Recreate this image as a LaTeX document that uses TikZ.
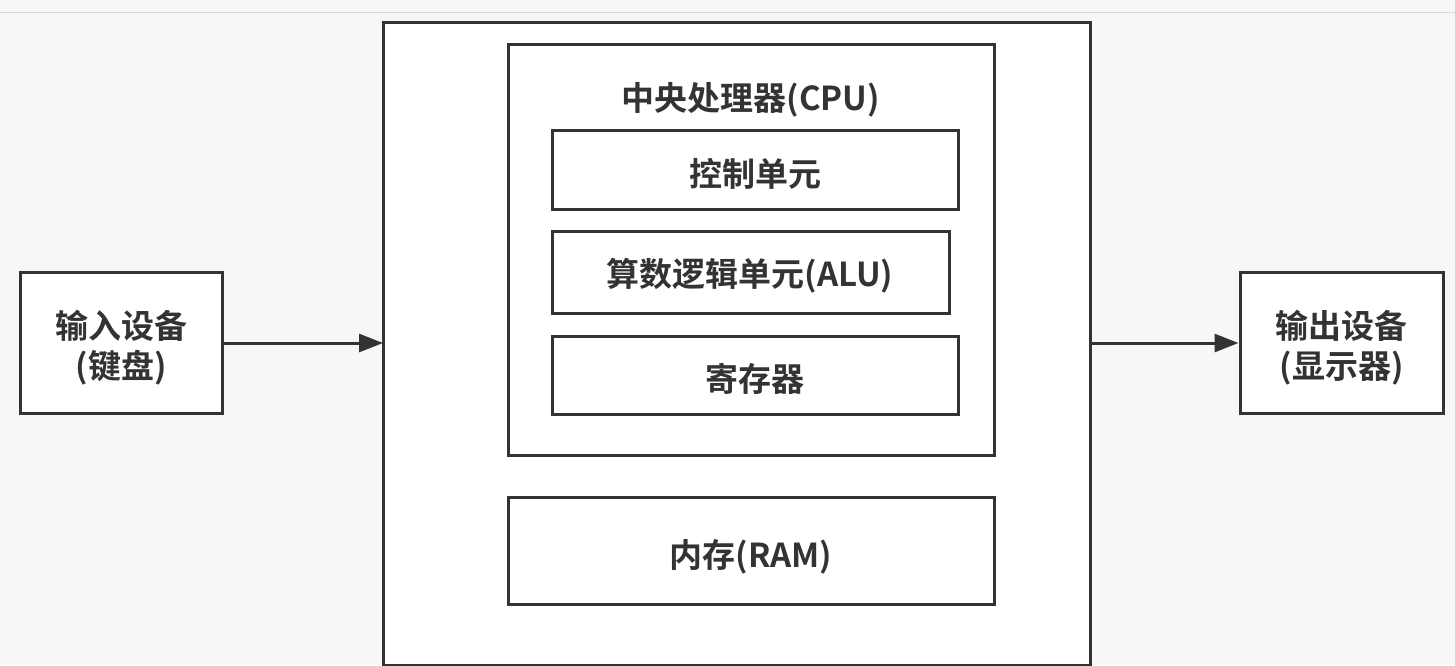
\documentclass[tikz,border=0pt]{standalone}
\usepackage{fontspec}
\setmainfont{Noto Sans CJK SC}[BoldFont={* Bold}]
\usetikzlibrary{arrows.meta}
\begin{document}
\begin{tikzpicture}[x=0.5pt,y=-0.5pt,
  bx/.style={draw=black!80,line width=1.5pt},
  lbl/.style={font=\fontsize{16.5}{20}\selectfont\bfseries,text=black!80,align=center},
  arr/.style={draw=black!80,line width=1.5pt,-{Triangle[length=12pt,width=9pt]}}]
\fill[white!97!black] (0,0) rectangle (1455,665);
\useasboundingbox (0,0) rectangle (1455,665);
\draw[black!15] (0,12) -- (1455,12);
\draw[bx,fill=white] (383,22) rectangle (1090,665);
\node[coordinate] (mainW) at (383,343) {};
\node[coordinate] (mainE) at (1090,343) {};
\draw[bx] (508,44) rectangle (994,455);
\node[lbl] (cpu) at (751,100) {中央处理器(CPU)};
\draw[bx] (552,130) rectangle (958,209);
\node[lbl] (cu) at (755,174) {控制单元};
\draw[bx] (552,231) rectangle (949,313);
\node[lbl] (alu) at (750,276) {算数逻辑单元(ALU)};
\draw[bx] (552,336) rectangle (958,414);
\node[lbl] (reg) at (755,379) {寄存器};
\draw[bx] (508,497) rectangle (994,604);
\node[lbl] (ram) at (751,557) {内存(RAM)};
\node[bx,fill=white,minimum width=101pt,minimum height=70.5pt] (in) at (121,342.5) {};
\node[lbl] (intext) at (121,348) {输入设备\\(键盘)};
\node[bx,fill=white,minimum width=101.5pt,minimum height=70.5pt] (out) at (1341.5,342.5) {};
\node[lbl] (outtext) at (1341.5,348) {输出设备\\(显示器)};
\draw[arr] (in.east |- mainW) -- (mainW);
\draw[arr] (mainE) -- (out.west |- mainE);
\end{tikzpicture}
\end{document}
